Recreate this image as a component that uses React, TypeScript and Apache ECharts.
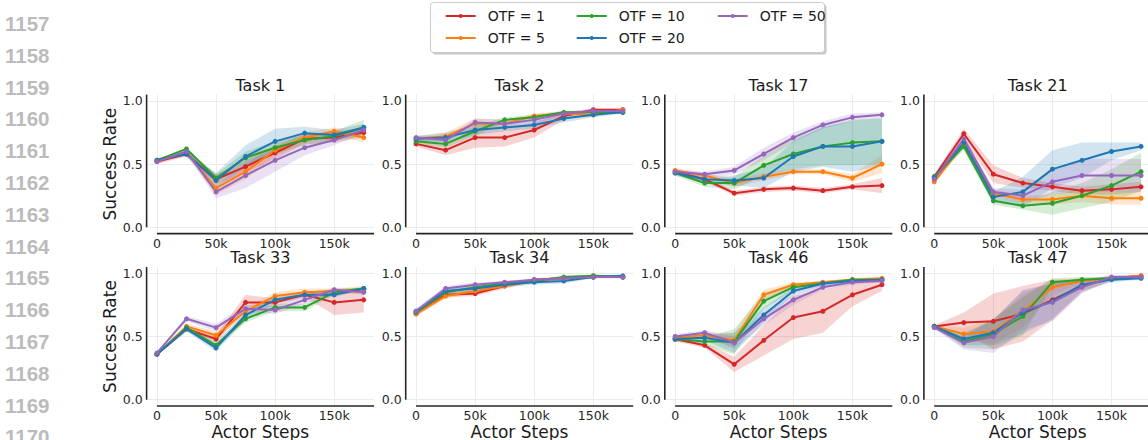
import React, { useEffect, useRef } from "react";
import * as echarts from "echarts";

// ---------- data ----------
const STEPS = [0, 25000, 50000, 75000, 100000, 125000, 150000, 175000];
const OTF_NAMES = ["OTF = 1", "OTF = 5", "OTF = 10", "OTF = 20", "OTF = 50"];
const OTF_COLORS = ["#d62728", "#ff7f0e", "#2ca02c", "#1f77b4", "#9467bd"];
const TASK_TITLES = ["Task 1", "Task 2", "Task 17", "Task 21", "Task 33", "Task 34", "Task 46", "Task 47"];
const X_TICKS = [0, 50000, 100000, 150000];
const Y_TICKS = [0, 0.5, 1.0];
const LINE_NUMBERS = ["1157", "1158", "1159", "1160", "1161", "1162", "1163", "1164", "1165", "1166", "1167", "1168", "1169", "1170"];
const LEGEND_COLUMNS = [["OTF = 1", "OTF = 5"], ["OTF = 10", "OTF = 20"], ["OTF = 50"]];

// means per OTF (1, 5, 10, 20, 50)
const task1Mean = [
  [0.52, 0.58, 0.38, 0.48, 0.59, 0.70, 0.71, 0.75],
  [0.53, 0.59, 0.31, 0.44, 0.61, 0.71, 0.76, 0.71],
  [0.53, 0.62, 0.39, 0.55, 0.63, 0.69, 0.72, 0.79],
  [0.53, 0.58, 0.37, 0.56, 0.68, 0.745, 0.73, 0.79],
  [0.52, 0.60, 0.28, 0.41, 0.53, 0.63, 0.69, 0.77],
];
const task1Spread = [
  [0.02, 0.02, 0.04, 0.05, 0.05, 0.04, 0.04, 0.04],
  [0.02, 0.02, 0.05, 0.06, 0.05, 0.04, 0.03, 0.04],
  [0.01, 0.01, 0.03, 0.05, 0.05, 0.04, 0.04, 0.06],
  [0.01, 0.02, 0.06, 0.09, 0.10, 0.05, 0.04, 0.03],
  [0.02, 0.02, 0.05, 0.10, 0.09, 0.06, 0.04, 0.03],
];
const task2Mean = [
  [0.66, 0.61, 0.71, 0.71, 0.77, 0.88, 0.93, 0.93],
  [0.70, 0.72, 0.82, 0.82, 0.88, 0.90, 0.89, 0.93],
  [0.68, 0.66, 0.76, 0.85, 0.87, 0.91, 0.91, 0.91],
  [0.70, 0.71, 0.77, 0.79, 0.81, 0.86, 0.89, 0.91],
  [0.71, 0.69, 0.83, 0.82, 0.85, 0.90, 0.92, 0.92],
];
const task2Spread = [
  [0.02, 0.04, 0.08, 0.07, 0.06, 0.03, 0.01, 0.01],
  [0.02, 0.03, 0.04, 0.03, 0.02, 0.02, 0.02, 0.01],
  [0.02, 0.03, 0.04, 0.02, 0.02, 0.01, 0.01, 0.01],
  [0.02, 0.04, 0.04, 0.03, 0.03, 0.03, 0.02, 0.01],
  [0.02, 0.02, 0.03, 0.03, 0.03, 0.02, 0.01, 0.01],
];
const task17Mean = [
  [0.44, 0.38, 0.27, 0.30, 0.31, 0.29, 0.32, 0.33],
  [0.45, 0.41, 0.35, 0.40, 0.44, 0.44, 0.39, 0.50],
  [0.43, 0.35, 0.35, 0.49, 0.58, 0.64, 0.67, 0.68],
  [0.43, 0.38, 0.37, 0.39, 0.56, 0.64, 0.64, 0.68],
  [0.44, 0.42, 0.45, 0.58, 0.71, 0.81, 0.87, 0.89],
];
const task17Spread = [
  [0.02, 0.02, 0.02, 0.02, 0.02, 0.02, 0.02, 0.06],
  [0.02, 0.02, 0.03, 0.03, 0.02, 0.02, 0.03, 0.07],
  [0.02, 0.03, 0.05, 0.08, 0.12, 0.15, 0.18, 0.18],
  [0.02, 0.03, 0.04, 0.08, 0.12, 0.16, 0.20, 0.19],
  [0.02, 0.02, 0.03, 0.05, 0.04, 0.03, 0.03, 0.02],
];
const task21Mean = [
  [0.40, 0.74, 0.42, 0.35, 0.32, 0.29, 0.30, 0.32],
  [0.36, 0.66, 0.27, 0.22, 0.22, 0.25, 0.23, 0.23],
  [0.40, 0.64, 0.21, 0.17, 0.19, 0.25, 0.33, 0.44],
  [0.39, 0.67, 0.24, 0.28, 0.46, 0.53, 0.60, 0.64],
  [0.38, 0.70, 0.28, 0.25, 0.36, 0.41, 0.41, 0.41],
];
const task21Spread = [
  [0.02, 0.04, 0.07, 0.04, 0.03, 0.03, 0.04, 0.04],
  [0.02, 0.03, 0.03, 0.03, 0.04, 0.05, 0.05, 0.05],
  [0.02, 0.03, 0.03, 0.03, 0.09, 0.10, 0.13, 0.15],
  [0.02, 0.03, 0.04, 0.12, 0.15, 0.14, 0.07, 0.03],
  [0.02, 0.03, 0.03, 0.05, 0.10, 0.13, 0.13, 0.13],
];
const task33Mean = [
  [0.36, 0.56, 0.48, 0.77, 0.77, 0.83, 0.77, 0.79],
  [0.36, 0.58, 0.51, 0.70, 0.82, 0.85, 0.86, 0.87],
  [0.36, 0.57, 0.43, 0.64, 0.73, 0.73, 0.85, 0.88],
  [0.36, 0.56, 0.41, 0.67, 0.79, 0.83, 0.83, 0.88],
  [0.37, 0.64, 0.57, 0.72, 0.71, 0.79, 0.87, 0.85],
];
const task33Spread = [
  [0.01, 0.02, 0.03, 0.06, 0.03, 0.02, 0.10, 0.10],
  [0.01, 0.02, 0.03, 0.03, 0.03, 0.03, 0.02, 0.03],
  [0.01, 0.02, 0.03, 0.03, 0.03, 0.03, 0.02, 0.01],
  [0.01, 0.02, 0.03, 0.03, 0.03, 0.02, 0.02, 0.01],
  [0.01, 0.02, 0.03, 0.03, 0.03, 0.03, 0.02, 0.02],
];
const task34Mean = [
  [0.68, 0.83, 0.84, 0.90, 0.95, 0.96, 0.97, 0.97],
  [0.68, 0.82, 0.86, 0.90, 0.94, 0.96, 0.98, 0.97],
  [0.69, 0.85, 0.89, 0.92, 0.94, 0.97, 0.98, 0.97],
  [0.70, 0.86, 0.88, 0.91, 0.93, 0.94, 0.97, 0.98],
  [0.70, 0.88, 0.91, 0.93, 0.95, 0.96, 0.97, 0.97],
];
const task34Spread = [
  [0.02, 0.02, 0.02, 0.02, 0.01, 0.01, 0.01, 0.01],
  [0.02, 0.02, 0.02, 0.02, 0.01, 0.01, 0.01, 0.01],
  [0.02, 0.02, 0.02, 0.02, 0.01, 0.01, 0.01, 0.01],
  [0.02, 0.03, 0.02, 0.02, 0.02, 0.02, 0.01, 0.01],
  [0.02, 0.02, 0.02, 0.01, 0.01, 0.01, 0.01, 0.01],
];
const task46Mean = [
  [0.48, 0.43, 0.28, 0.47, 0.65, 0.70, 0.83, 0.91],
  [0.49, 0.51, 0.47, 0.83, 0.91, 0.93, 0.95, 0.96],
  [0.48, 0.46, 0.46, 0.78, 0.89, 0.92, 0.95, 0.95],
  [0.48, 0.49, 0.45, 0.67, 0.86, 0.92, 0.94, 0.95],
  [0.50, 0.53, 0.45, 0.64, 0.79, 0.89, 0.93, 0.94],
];
const task46Spread = [
  [0.02, 0.02, 0.06, 0.12, 0.17, 0.17, 0.09, 0.05],
  [0.02, 0.02, 0.06, 0.04, 0.02, 0.01, 0.01, 0.01],
  [0.02, 0.03, 0.10, 0.06, 0.03, 0.02, 0.01, 0.01],
  [0.02, 0.02, 0.08, 0.06, 0.03, 0.02, 0.01, 0.01],
  [0.02, 0.02, 0.05, 0.05, 0.04, 0.02, 0.02, 0.01],
];
const task47Mean = [
  [0.58, 0.61, 0.62, 0.68, 0.79, 0.90, 0.96, 0.98],
  [0.58, 0.52, 0.54, 0.70, 0.89, 0.94, 0.96, 0.98],
  [0.58, 0.46, 0.52, 0.66, 0.93, 0.95, 0.96, 0.97],
  [0.58, 0.48, 0.53, 0.69, 0.78, 0.91, 0.95, 0.96],
  [0.57, 0.45, 0.50, 0.71, 0.77, 0.89, 0.97, 0.97],
];
const task47Spread = [
  [0.01, 0.08, 0.22, 0.22, 0.16, 0.05, 0.02, 0.01],
  [0.01, 0.05, 0.10, 0.13, 0.06, 0.02, 0.01, 0.01],
  [0.01, 0.05, 0.12, 0.15, 0.03, 0.02, 0.01, 0.01],
  [0.01, 0.05, 0.10, 0.17, 0.14, 0.05, 0.02, 0.01],
  [0.01, 0.05, 0.13, 0.16, 0.15, 0.05, 0.02, 0.01],
];

const PANELS = [
  { mean: task1Mean, spread: task1Spread },
  { mean: task2Mean, spread: task2Spread },
  { mean: task17Mean, spread: task17Spread },
  { mean: task21Mean, spread: task21Spread },
  { mean: task33Mean, spread: task33Spread },
  { mean: task34Mean, spread: task34Spread },
  { mean: task46Mean, spread: task46Spread },
  { mean: task47Mean, spread: task47Spread },
];

// ---------- layout ----------
const FONT = "DejaVu Sans";
const TEXT_COLOR = "#262626";
const X_MIN = -8750;
const X_MAX = 183750;
const Y_MIN = -0.05;
const Y_MAX = 1.05;
const GRID_LEFT0 = 146.6;
const COL_STEP = 259.1;
const GRID_W = 227.5;
const ROW_TOP = [94.6, 267.0];
const GRID_H = [139.0, 139.0];
const TITLE_Y = [85, 257.5];

function fmtK(v: number) {
  return v === 0 ? "0" : `${Math.round(v / 1000)}k`;
}

function buildOption() {
  const grids: any[] = [];
  const xAxes: any[] = [];
  const yAxes: any[] = [];
  const titles: any[] = [];
  const series: any[] = [];

  PANELS.forEach((panel, i) => {
    const row = Math.floor(i / 4);
    const col = i % 4;
    const left = GRID_LEFT0 + col * COL_STEP;
    grids.push({
      left,
      top: ROW_TOP[row],
      width: GRID_W,
      height: GRID_H[row],
      containLabel: false,
      outerBoundsMode: "none",
    });
    titles.push({
      text: TASK_TITLES[i],
      left: left + GRID_W / 2,
      top: TITLE_Y[row],
      textAlign: "center",
      textVerticalAlign: "middle",
      padding: 0,
      textStyle: { fontFamily: FONT, fontSize: 16, lineHeight: 14, fontWeight: "normal", color: "#1a1a1a" },
    });
    xAxes.push({
      gridIndex: i,
      type: "value",
      min: X_MIN,
      max: X_MAX,
      axisLine: { show: false },
      axisTick: { show: false, customValues: X_TICKS },
      axisLabel: {
        customValues: X_TICKS,
        formatter: fmtK,
        fontFamily: FONT,
        fontSize: 12.5,
        lineHeight: 11,
        color: TEXT_COLOR,
        margin: 4,
      },
      splitLine: { show: true, lineStyle: { color: "#ebebeb", width: 1 } },
      name: row === 1 ? "Actor Steps" : "",
      nameLocation: "middle",
      nameGap: 17,
      nameTextStyle: { fontFamily: FONT, fontSize: 17, color: "#1a1a1a" },
    });
    yAxes.push({
      gridIndex: i,
      type: "value",
      min: Y_MIN,
      max: Y_MAX,
      axisLine: { show: false },
      axisTick: { show: false, customValues: Y_TICKS },
      axisLabel: {
        customValues: Y_TICKS,
        formatter: (v: number) => v.toFixed(1),
        fontFamily: FONT,
        fontSize: 12.5,
        color: TEXT_COLOR,
        margin: 4,
      },
      splitLine: { show: true, lineStyle: { color: "#ebebeb", width: 1 } },
      name: col === 0 ? "Success Rate" : "",
      nameLocation: "middle",
      nameGap: 27,
      nameTextStyle: { fontFamily: FONT, fontSize: 17, color: "#1a1a1a" },
    });

    // confidence bands
    panel.mean.forEach((m, s) => {
      const sp = panel.spread[s];
      const color = OTF_COLORS[s];
      series.push({
        type: "custom",
        name: "_band",
        xAxisIndex: i,
        yAxisIndex: i,
        silent: true,
        z: 1,
        data: [[0, 0]],
        renderItem: (_params: any, api: any) => {
          const pts: number[][] = [];
          for (let k = 0; k < STEPS.length; k++) pts.push(api.coord([STEPS[k], m[k] + sp[k]]));
          for (let k = STEPS.length - 1; k >= 0; k--) pts.push(api.coord([STEPS[k], m[k] - sp[k]]));
          return {
            type: "polygon",
            shape: { points: pts },
            style: { fill: color, opacity: 0.2 },
          };
        },
      });
    });
    // lines
    panel.mean.forEach((m, s) => {
      series.push({
        type: "line",
        name: OTF_NAMES[s],
        xAxisIndex: i,
        yAxisIndex: i,
        data: STEPS.map((x, k) => [x, m[k]]),
        symbol: "circle",
        symbolSize: 5,
        showSymbol: true,
        lineStyle: { width: 2, color: OTF_COLORS[s] },
        itemStyle: { color: OTF_COLORS[s] },
        silent: true,
        z: 3,
      });
    });
    // trimmed spines (seaborn despine style)
    series.push({
      type: "line",
      name: "_spine",
      xAxisIndex: i,
      yAxisIndex: i,
      data: [[X_MIN, 0], [X_MIN, Y_MAX]],
      symbol: "none",
      clip: false,
      silent: true,
      lineStyle: { color: TEXT_COLOR, width: 1.6 },
      z: 2,
    });
    series.push({
      type: "line",
      name: "_spine",
      xAxisIndex: i,
      yAxisIndex: i,
      data: [[0, Y_MIN], [X_MAX, Y_MIN]],
      symbol: "none",
      clip: false,
      silent: true,
      lineStyle: { color: TEXT_COLOR, width: 1.6 },
      z: 2,
    });
  });

  const legendLefts = [444.7, 575.7, 716.7];
  const legends = LEGEND_COLUMNS.map((names, c) => ({
    data: names,
    left: legendLefts[c],
    top: 9,
    orient: "vertical",
    itemWidth: 30,
    itemHeight: 5,
    itemGap: 8,
    padding: 0,
    selectedMode: false,
    z: 10,
    textStyle: {
      fontFamily: FONT,
      fontSize: 14,
      color: "#1a1a1a",
      lineHeight: 14,
      padding: [0, 0, 0, 7],
    },
  }));

  const graphics: any[] = [
    {
      type: "rect",
      shape: { x: 432.5, y: 4.5, width: 394, height: 50, r: 3 },
      style: { fill: "rgba(0,0,0,0.22)" },
      z: 0,
    },
    {
      type: "rect",
      shape: { x: 430.5, y: 2.5, width: 394, height: 50, r: 3 },
      style: { fill: "#ffffff", stroke: "#cccccc", lineWidth: 1 },
      z: 1,
    },
    ...LINE_NUMBERS.map((t, k) => ({
      type: "text",
      x: 5,
      y: 23.5 + k * 31.8,
      style: {
        text: t,
        fontFamily: "Liberation Sans",
        fontWeight: "bold",
        fontSize: 20.5,
        fill: "#bbbbbb",
        verticalAlign: "middle",
      },
    })),
  ];

  return {
    animation: false,
    backgroundColor: "#ffffff",
    title: titles,
    grid: grids,
    xAxis: xAxes,
    yAxis: yAxes,
    legend: legends,
    graphic: graphics,
    series,
  };
}

export default function App() {
  const ref = useRef<HTMLDivElement>(null);
  useEffect(() => {
    if (!ref.current) return;
    const chart = echarts.init(ref.current, undefined, { renderer: "svg" });
    chart.setOption(buildOption() as any);
    return () => chart.dispose();
  }, []);
  return (
    <div
      ref={ref}
      style={{ position: "absolute", left: 0, top: 0, width: 1148, height: 440, background: "#fff" }}
    />
  );
}
